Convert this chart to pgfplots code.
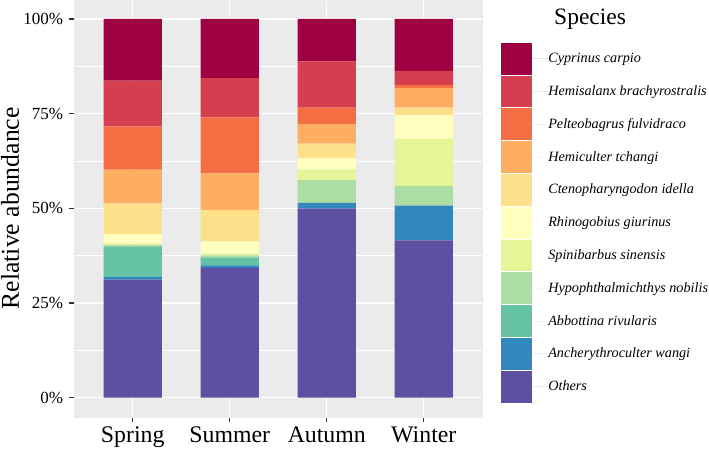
\documentclass[border=0pt]{standalone}
\usepackage{pgfplots}
\pgfplotsset{compat=1.18}
\usepackage{pgfplotstable}
\usepackage{fontspec}
\setmainfont{Liberation Serif}

% Spectral palette, 11 classes
\definecolor{sp1}{HTML}{9E0142}
\definecolor{sp2}{HTML}{D53E4F}
\definecolor{sp3}{HTML}{F46D43}
\definecolor{sp4}{HTML}{FDAE61}
\definecolor{sp5}{HTML}{FEE08B}
\definecolor{sp6}{HTML}{FFFFBF}
\definecolor{sp7}{HTML}{E6F598}
\definecolor{sp8}{HTML}{ABDDA4}
\definecolor{sp9}{HTML}{66C2A5}
\definecolor{sp10}{HTML}{3288BD}
\definecolor{sp11}{HTML}{5E4FA2}
\definecolor{panelgrey}{HTML}{EBEBEB}
\definecolor{tickgrey}{HTML}{333333}

% Relative abundance (%) per season: 1 Spring, 2 Summer, 3 Autumn, 4 Winter
\pgfplotstableread{
x Others Anch Abbo Hypo Spin Rhin Cten Hemc Pelt Hems Cypr
1 31.2   0.7  8.0  0.4  0.4  2.5  8.1  8.9  11.4 12.1 16.3
2 34.3   0.6  2.1  0.6  0.4  3.3  8.3  9.6  14.8 10.4 15.6
3 49.9   1.5  0.0  6.1  2.7  3.1  3.8  5.2  4.3  12.2 11.2
4 41.5   9.2  0.0  5.2  12.4 6.3  2.0  5.2  0.8  3.7  13.7
}\abund

\begin{document}
\begin{tikzpicture}
\useasboundingbox (0,0) rectangle (709pt,448pt);
\begin{axis}[
  at={(74.5pt,31.4pt)}, anchor=south west,
  scale only axis, width=407.5pt, height=416.6pt,
  ybar stacked, bar width=0.6,
  xmin=0.4, xmax=4.6, ymin=-5, ymax=105,
  axis background/.style={fill=panelgrey},
  axis line style={draw=panelgrey, line width=0.2pt},
  tick align=outside, tick pos=left,
  major tick length=5.5pt,
  minor tick length=0pt,
  major tick style={draw=tickgrey, line width=1.2pt},
  xtick={1,2,3,4},
  xticklabels={Spring,Summer,Autumn,Winter},
  ytick={0,25,50,75,100},
  yticklabels={0\%,25\%,50\%,75\%,100\%},
  minor ytick={12.5,37.5,62.5,87.5},
  xmajorgrids, ymajorgrids, yminorgrids,
  major grid style={draw=white, line width=1.3pt},
  minor grid style={draw=white, line width=0.65pt},
  xticklabel style={font=\fontsize{23.8}{26}\selectfont, anchor=base, inner sep=0pt, yshift=-20.6pt},
  yticklabel style={font=\fontsize{17}{20}\selectfont, anchor=east, inner sep=0pt, xshift=-5.7pt},
  ylabel={Relative abundance},
  ylabel style={font=\fontsize{25.7}{28}\selectfont, at={(axis description cs:-0.1365,0.5)}, anchor=base, inner sep=0pt},
  reverse legend,
  legend style={
    at={(1.0459,0.8975)}, anchor=north west,
    draw=none, fill=none, inner sep=0pt, outer sep=0pt,
    row sep=1pt, column sep=0pt,
    font=\fontsize{14.2}{16}\selectfont\itshape,
    nodes={inner sep=0pt, outer sep=0pt},
    cells={anchor=west},
  },
  legend image code/.code={
    \fill[#1] (0pt,-15.9pt) rectangle (31.6pt,15.9pt);
    \path (31.6pt,0pt) -- (47.6pt,0pt);
  },
  every axis plot/.append style={draw=none},
]
\addplot[fill=sp11] table[x=x,y=Others] {\abund};
\addlegendentry{Others}
\addplot[fill=sp10] table[x=x,y=Anch] {\abund};
\addlegendentry{Ancherythroculter wangi}
\addplot[fill=sp9] table[x=x,y=Abbo] {\abund};
\addlegendentry{Abbottina rivularis}
\addplot[fill=sp8] table[x=x,y=Hypo] {\abund};
\addlegendentry{Hypophthalmichthys nobilis}
\addplot[fill=sp7] table[x=x,y=Spin] {\abund};
\addlegendentry{Spinibarbus sinensis}
\addplot[fill=sp6] table[x=x,y=Rhin] {\abund};
\addlegendentry{Rhinogobius giurinus}
\addplot[fill=sp5] table[x=x,y=Cten] {\abund};
\addlegendentry{Ctenopharyngodon idella}
\addplot[fill=sp4] table[x=x,y=Hemc] {\abund};
\addlegendentry{Hemiculter tchangi}
\addplot[fill=sp3] table[x=x,y=Pelt] {\abund};
\addlegendentry{Pelteobagrus fulvidraco}
\addplot[fill=sp2] table[x=x,y=Hems] {\abund};
\addlegendentry{Hemisalanx brachyrostralis}
\addplot[fill=sp1] table[x=x,y=Cypr] {\abund};
\addlegendentry{Cyprinus carpio}
\end{axis}
\node[anchor=base west, inner sep=0pt, font=\fontsize{23.5}{26}\selectfont] at (554pt,423pt) {Species};
\end{tikzpicture}
\end{document}
